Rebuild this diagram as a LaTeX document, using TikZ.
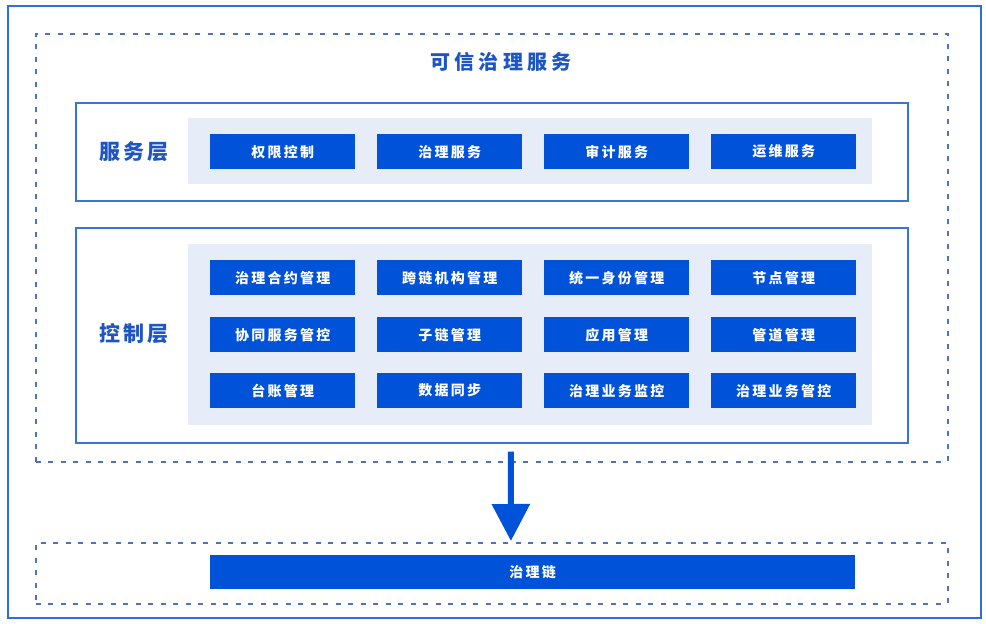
\documentclass[tikz,border=0pt]{standalone}
\usepackage{fontspec}
\setmainfont{Noto Sans CJK SC}
\newfontfamily\spaced[LetterSpace=16]{Noto Sans CJK SC}
\newfontfamily\wide[LetterSpace=22]{Noto Sans CJK SC}
\usetikzlibrary{arrows.meta}
\definecolor{tdblue}{HTML}{0052D9}
\definecolor{frameblue}{HTML}{2C6FE0}
\definecolor{lineblue}{HTML}{3A72D6}
\definecolor{dashblue}{HTML}{4C72C0}
\definecolor{panelblue}{HTML}{E6EDF8}
\definecolor{textblue}{HTML}{1D55C4}
\begin{document}
\begin{tikzpicture}
[
  x=1pt, y=-1pt,
	frame/.style={draw=frameblue,line width=2pt,anchor=north west,inner sep=0pt},
	zone/.style={draw=dashblue,line width=1.8pt,dash pattern=on 5pt off 7.5pt,anchor=north west,inner sep=0pt},
	layer/.style={draw=lineblue,line width=1.5pt,anchor=north west,inner sep=0pt},
	panel/.style={fill=panelblue,anchor=north west,inner sep=0pt},
	btn/.style={fill=tdblue,text=white,font=\spaced\fontsize{14}{14}\selectfont\bfseries,anchor=north west,inner sep=0pt,minimum width=145pt,minimum height=35pt},
	lbl/.style={text=textblue,font=\spaced\fontsize{21}{21}\selectfont\bfseries},
	bigarrow/.style={draw=tdblue,line width=6pt,-{Triangle[width=37pt,length=37pt]}}
]
\useasboundingbox (0,0) rectangle (986,624);

% frames
\node[frame,minimum width=973pt,minimum height=612pt] (page) at (7,5) {};
\node[zone,minimum width=912pt,minimum height=428pt] (trust) at (35,33) {};
\node[text=textblue,font=\wide\fontsize{20}{20}\selectfont\bfseries] (title) at (501,62) {可信治理服务};

% service layer
\node[layer,minimum width=832pt,minimum height=98pt] (svc) at (75,102) {};
\node[panel,minimum width=684pt,minimum height=66pt] (svcpanel) at (188,118) {};
\node[lbl] (svclbl) at (134,152) {服务层};
\node[btn] (s1) at (210,134) {权限控制};
\node[btn] (s2) at (377,134) {治理服务};
\node[btn] (s3) at (544,134) {审计服务};
\node[btn] (s4) at (711,134) {运维服务};

% control layer
\node[layer,minimum width=832pt,minimum height=215pt] (ctrl) at (75,227) {};
\node[panel,minimum width=684pt,minimum height=181pt] (ctrlpanel) at (188,244) {};
\node[lbl] (ctrllbl) at (134,334) {控制层};
\node[btn] (c11) at (210,260) {治理合约管理};
\node[btn] (c12) at (377,260) {跨链机构管理};
\node[btn] (c13) at (544,260) {统一身份管理};
\node[btn] (c14) at (711,260) {节点管理};
\node[btn] (c21) at (210,317) {协同服务管控};
\node[btn] (c22) at (377,317) {子链管理};
\node[btn] (c23) at (544,317) {应用管理};
\node[btn] (c24) at (711,317) {管道管理};
\node[btn] (c31) at (210,373) {台账管理};
\node[btn] (c32) at (377,373) {数据同步};
\node[btn] (c33) at (544,373) {治理业务监控};
\node[btn] (c34) at (711,373) {治理业务管控};

% chain
\node[zone,minimum width=912pt,minimum height=61pt] (chainzone) at (35,542) {};
\node[btn,minimum width=645pt,minimum height=34pt] (chain) at (210,555) {治理链};

\draw[bigarrow] ([xshift=19pt,yshift=-8pt]ctrl.south) -- ([xshift=19pt,yshift=1pt]chainzone.north);

\end{tikzpicture}
\end{document}
